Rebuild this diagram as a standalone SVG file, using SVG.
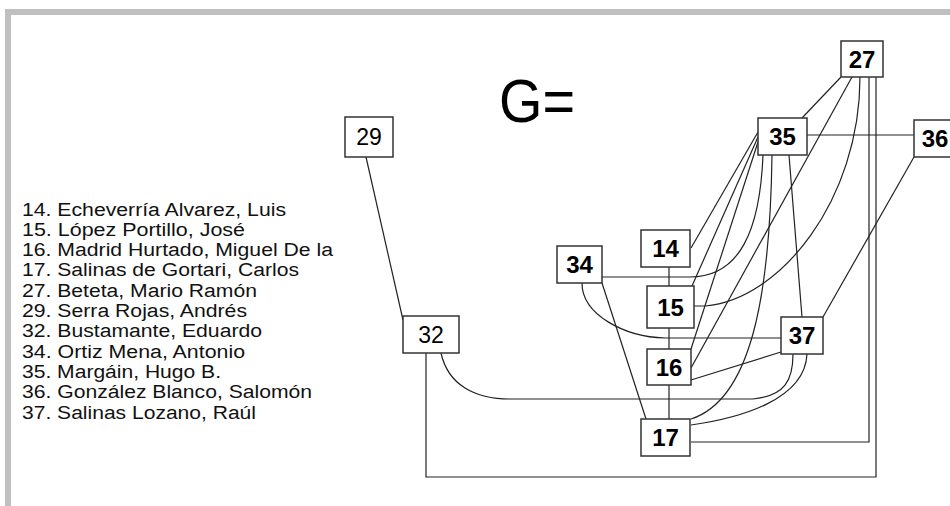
<svg xmlns="http://www.w3.org/2000/svg" width="950" height="506" viewBox="0 0 950 506">
<style>
.frame{fill:#c0c0c0}
.box{fill:#fff;stroke:#333;stroke-width:1.5}
.lbl{font-family:"Liberation Sans",Arial,sans-serif;font-size:24px;font-weight:bold;text-anchor:middle;fill:#000}
.lblr{font-family:"Liberation Sans",Arial,sans-serif;font-size:23px;text-anchor:middle;fill:#000}
.e{fill:none;stroke:#222;stroke-width:1.2}
.list{font-family:"Liberation Sans",Arial,sans-serif;font-size:17.6px;fill:#111}
</style>
<rect width="950" height="506" fill="#fff"/>
<rect class="frame" x="5" y="9" width="945" height="6"/>
<rect class="frame" x="5" y="9" width="6" height="497"/>
<text x="499" y="122" font-family="'Liberation Sans',Arial,sans-serif" font-size="62" fill="#000" textLength="76" lengthAdjust="spacingAndGlyphs">G=</text>
<g id="legend" class="list">
<text x="22" y="215.5" textLength="264" lengthAdjust="spacingAndGlyphs">14. Echeverría Alvarez, Luis</text>
<text x="22" y="235.8" textLength="223" lengthAdjust="spacingAndGlyphs">15. López Portillo, José</text>
<text x="22" y="256.1" textLength="311" lengthAdjust="spacingAndGlyphs">16. Madrid Hurtado, Miguel De la</text>
<text x="22" y="276.4" textLength="277" lengthAdjust="spacingAndGlyphs">17. Salinas de Gortari, Carlos</text>
<text x="22" y="296.7" textLength="235" lengthAdjust="spacingAndGlyphs">27. Beteta, Mario Ramón</text>
<text x="22" y="317" textLength="225" lengthAdjust="spacingAndGlyphs">29. Serra Rojas, Andrés</text>
<text x="22" y="337.3" textLength="240" lengthAdjust="spacingAndGlyphs">32. Bustamante, Eduardo</text>
<text x="22" y="357.6" textLength="223" lengthAdjust="spacingAndGlyphs">34. Ortiz Mena, Antonio</text>
<text x="22" y="377.9" textLength="199" lengthAdjust="spacingAndGlyphs">35. Margáin, Hugo B.</text>
<text x="22" y="398.2" textLength="290" lengthAdjust="spacingAndGlyphs">36. González Blanco, Salomón</text>
<text x="22" y="418.5" textLength="234" lengthAdjust="spacingAndGlyphs">37. Salinas Lozano, Raúl</text>
</g>
<g id="edges">
<line class="e" x1="366" y1="157" x2="403" y2="320"/>
<path class="e" d="M441,353 C448,385 475,399 510,399 L753,399 C785,396 793,380 793,354"/>
<path class="e" d="M426,353 L426,477 L876,477 L876,77"/>
<path class="e" d="M691,442 L869,442 L869,77"/>
<line class="e" x1="669" y1="267" x2="669" y2="286"/>
<line class="e" x1="669" y1="328" x2="669" y2="349"/>
<line class="e" x1="669" y1="385" x2="669" y2="419"/>
<line class="e" x1="602" y1="283" x2="646" y2="419"/>
<path class="e" d="M582,283 C582,315 625,337 665,338 L781,338"/>
<line class="e" x1="691" y1="380" x2="781" y2="352"/>
<path class="e" d="M691,425 C740,418 805,400 807,354"/>
<line class="e" x1="914" y1="157" x2="823" y2="317"/>
<line class="e" x1="807" y1="135" x2="914" y2="135"/>
<line class="e" x1="841" y1="77" x2="802" y2="118"/>
<line class="e" x1="789" y1="155" x2="802" y2="317"/>
<line class="e" x1="758" y1="132" x2="691" y2="248"/>
<line class="e" x1="758" y1="137" x2="692" y2="286"/>
<line class="e" x1="758" y1="142" x2="691" y2="349"/>
<path class="e" d="M772,155 C770,300 750,400 691,419"/>
<path class="e" d="M763,155 C760,230 740,277 690,277 L602,277"/>
<line class="e" x1="852" y1="77" x2="691" y2="368"/>
<path class="e" d="M860,77 C860,200 780,300 705,306 L694,306"/>
</g>
<g id="n27"><rect class="box" x="841" y="41" width="42" height="36"/><text class="lbl" x="862" y="67.5">27</text></g>
<g id="n29"><rect class="box" x="345" y="117" width="48" height="40"/><text class="lblr" x="369" y="145">29</text></g>
<g id="n32"><rect class="box" x="403" y="316" width="56" height="37"/><text class="lblr" x="431" y="343">32</text></g>
<g id="n34"><rect class="box" x="557" y="246" width="45" height="37"/><text class="lbl" x="579.5" y="273">34</text></g>
<g id="n35"><rect class="box" x="758" y="118" width="49" height="37"/><text class="lbl" x="782.5" y="145">35</text></g>
<g id="n36"><rect class="box" x="914" y="120" width="42" height="37"/><text class="lbl" x="935" y="147">36</text></g>
<g id="n14"><rect class="box" x="641" y="230" width="49" height="37"/><text class="lbl" x="665.5" y="257">14</text></g>
<g id="n15"><rect class="box" x="647" y="286" width="47" height="42"/><text class="lbl" x="670.5" y="315.5">15</text></g>
<g id="n16"><rect class="box" x="647" y="349" width="44" height="36"/><text class="lbl" x="669" y="375.5">16</text></g>
<g id="n17"><rect class="box" x="641" y="419" width="49" height="37"/><text class="lbl" x="665.5" y="446">17</text></g>
<g id="n37"><rect class="box" x="781" y="317" width="42" height="37"/><text class="lbl" x="802" y="344">37</text></g>
</svg>
